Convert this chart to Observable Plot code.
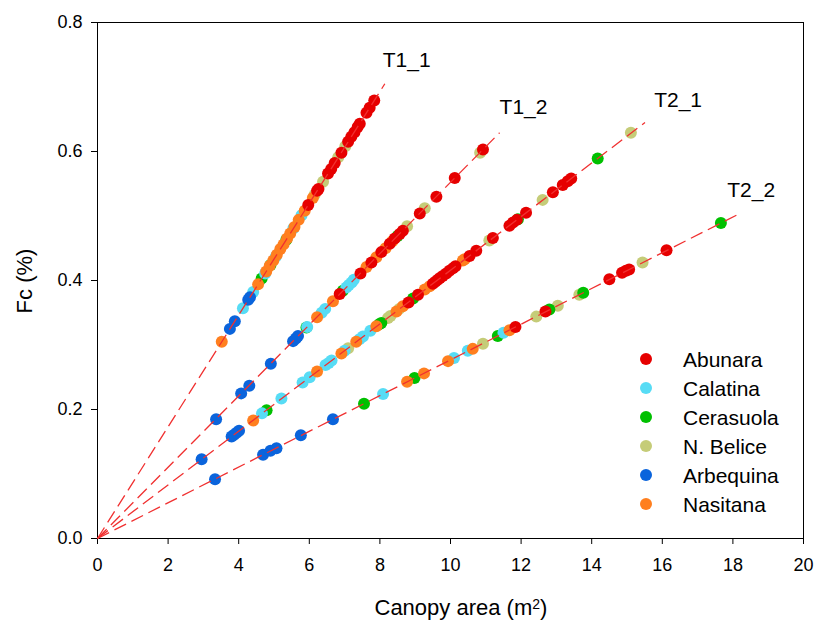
<!DOCTYPE html>
<html><head><meta charset="utf-8">
<script src="https://cdn.jsdelivr.net/npm/d3@7"></script>
<script src="https://cdn.jsdelivr.net/npm/@observablehq/plot@0.6"></script>
<style>
body{margin:0;background:#fff;}
#wrap{position:relative;width:816px;height:623px;font-family:"Liberation Sans",Arial,sans-serif;}
.lrow{position:absolute;font-size:21px;line-height:21px;color:#000;white-space:nowrap;}
.sw{position:absolute;width:12px;height:12px;border-radius:50%;}
.ttl{position:absolute;font-size:22px;line-height:22px;color:#000;white-space:nowrap;}
.ttl sup{font-size:14px;vertical-align:top;position:relative;top:-4px;}
</style></head><body><div id="wrap"></div>
<script>
// Cultivars and their colours
const cultivars = ["Abunara", "Calatina", "Cerasuola", "N. Belice", "Arbequina", "Nasitana"];
const cultivarColors = ["#e60000", "#57dcf5", "#00c000", "#c5cc78", "#0a64dc", "#ff7f1f"];
const drawOrder = ["N. Belice", "Cerasuola", "Calatina", "Arbequina", "Nasitana", "Abunara"];
const codes = {A: "Abunara", C: "Calatina", G: "Cerasuola", N: "N. Belice", B: "Arbequina", O: "Nasitana"};

// Fit lines (through origin)
const lineNames = ["T1_1", "T1_2", "T2_1", "T2_2"];
const lineEndX = [8.14, 11.39, 15.51, 18.13];
const lineEndY = [0.705, 0.629, 0.645, 0.502];
const labelX = [8.08, 11.39, 15.77, 17.84];
const labelY = [0.741, 0.668, 0.679, 0.540];

// Axis ticks
const xTicks = [0, 2, 4, 6, 8, 10, 12, 14, 16, 18, 20];
const yTicks = [0, 0.2, 0.4, 0.6, 0.8];

// T1_1 points
const t11X = [3.52,3.75,3.89,4.12,4.27,4.32,4.41,4.55,4.65,4.75,4.78,4.90,4.88,4.98,5.05,5.08,5.18,5.27,5.35,5.37,5.46,5.55,5.58,5.70,5.78,5.87,5.97,6.10,6.15,6.22,6.26,6.39,6.53,6.62,6.72,6.82,6.91,7.02,7.10,7.19,7.28,7.37,7.43,7.62,7.71,7.84];
const t11Y = [0.305,0.325,0.337,0.357,0.370,0.374,0.382,0.394,0.403,0.411,0.414,0.424,0.423,0.431,0.437,0.440,0.449,0.456,0.463,0.465,0.473,0.481,0.483,0.494,0.501,0.508,0.517,0.528,0.533,0.539,0.542,0.553,0.566,0.573,0.582,0.591,0.598,0.608,0.615,0.623,0.630,0.638,0.643,0.660,0.668,0.679];
const t11C = "OBBCBBCOGCOGOOCOOOGOOCOOCOAONAANAAANANAAAAAAAA";

// T1_2 points
const t12X = [3.36,4.07,4.30,4.91,5.54,5.62,5.68,5.92,5.94,6.22,6.35,6.45,6.67,6.86,6.95,7.05,7.12,7.20,7.26,7.45,7.62,7.76,7.90,8.04,8.16,8.28,8.35,8.42,8.50,8.56,8.65,8.77,9.13,9.27,9.60,10.12,10.84,10.92];
const t12Y = [0.185,0.225,0.237,0.271,0.306,0.310,0.314,0.327,0.328,0.343,0.350,0.356,0.368,0.379,0.384,0.389,0.393,0.397,0.401,0.411,0.421,0.428,0.436,0.444,0.450,0.457,0.461,0.465,0.469,0.472,0.477,0.484,0.504,0.512,0.530,0.559,0.598,0.603];
const t12C = "BBBBBBBGCOCCOAGCCCCAOAOAOAOAGAANANAANA";

// T2_1 points
const t21X = [2.95,3.80,3.87,3.94,4.01,4.41,4.66,4.79,5.21,5.81,6.01,6.22,6.46,6.55,6.63,6.91,7.00,7.10,7.33,7.42,7.52,7.73,7.90,7.98,8.04,8.23,8.30,8.47,8.55,8.65,8.81,8.94,9.08,9.27,9.41,9.50,9.57,9.64,9.70,9.78,9.88,9.97,10.07,10.14,10.35,10.40,10.54,10.73,11.10,11.20,11.67,11.77,11.91,11.88,12.14,12.61,12.90,13.18,13.32,13.42,14.17,15.11];
const t21Y = [0.123,0.158,0.161,0.164,0.167,0.183,0.194,0.199,0.217,0.242,0.250,0.259,0.269,0.272,0.276,0.287,0.291,0.295,0.305,0.309,0.313,0.322,0.329,0.332,0.334,0.342,0.345,0.352,0.356,0.360,0.366,0.372,0.378,0.386,0.391,0.395,0.398,0.401,0.404,0.407,0.411,0.415,0.419,0.422,0.431,0.433,0.438,0.446,0.462,0.466,0.485,0.490,0.495,0.494,0.505,0.525,0.537,0.548,0.554,0.558,0.589,0.629];
const t21C = "BBBBBOCGCCCOCCCOCNOCCCOGGNNONOAGAOOAAAAAAAAAOOAANAAAGAANAAAAGN";

// T2_2 points
const t22X = [3.33,4.69,4.90,5.07,5.76,6.67,7.55,8.09,8.77,8.98,9.25,9.93,10.10,10.49,10.63,10.92,11.34,11.50,11.67,11.84,12.43,12.69,12.80,13.04,13.65,13.76,14.50,14.86,14.97,15.06,15.44,16.12,17.66];
const t22Y = [0.092,0.130,0.136,0.140,0.160,0.185,0.209,0.224,0.243,0.249,0.256,0.275,0.280,0.291,0.294,0.302,0.314,0.319,0.323,0.328,0.344,0.352,0.355,0.361,0.378,0.381,0.402,0.412,0.415,0.417,0.428,0.447,0.489];
const t22C = "BBBBBBGCOGOOCCONGCOANAGNNGAAAANAG";

function rows(xs, ys, cs) {
  return xs.map((x, i) => ({x, y: ys[i], cultivar: codes[cs[i]]}));
}
const points = d3.sort(
  [...rows(t11X, t11Y, t11C), ...rows(t12X, t12Y, t12C), ...rows(t21X, t21Y, t21C), ...rows(t22X, t22Y, t22C)],
  d => drawOrder.indexOf(d.cultivar)
);
const fitLines = lineNames.map((name, i) => ({name, x: lineEndX[i], y: lineEndY[i], lx: labelX[i], ly: labelY[i]}));

const font = '"Liberation Sans", Arial, sans-serif';
const chart = Plot.plot({
  width: 816, height: 623,
  marginLeft: 97, marginRight: 13, marginTop: 22, marginBottom: 85,
  style: {fontFamily: font, background: "white", color: "black"},
  x: {domain: [0, 20]},
  y: {domain: [0, 0.8]},
  color: {domain: cultivars, range: cultivarColors},
  marks: [
    Plot.frame({stroke: "black", strokeWidth: 1}),
    Plot.axisX({ticks: xTicks, tickSize: 6, tickPadding: 14, fontSize: 18, label: null}),
    Plot.axisY({ticks: yTicks, tickFormat: d => d.toFixed(1), tickSize: 6, tickPadding: 9, fontSize: 18, label: null}),
    Plot.dot(points, {x: "x", y: "y", fill: "cultivar", r: 6}),
    Plot.link(fitLines, {x1: d => 0, y1: d => 0, x2: "x", y2: "y", stroke: "#f03030", strokeWidth: 1.3, strokeDasharray: "13,6"}),
    Plot.text(fitLines, {x: "lx", y: "ly", text: "name", textAnchor: "start", fontSize: 21, fill: "black"})
  ]
});
const wrap = document.getElementById("wrap");
wrap.appendChild(chart);

// Axis titles
const xt = document.createElement("div");
xt.className = "ttl";
xt.innerHTML = "Canopy area (m<sup>2</sup>)";
wrap.appendChild(xt);
xt.style.left = (461 - xt.offsetWidth / 2) + "px";
xt.style.top = (608 - 11) + "px";
const yt = document.createElement("div");
yt.className = "ttl";
yt.textContent = "Fc (%)";
wrap.appendChild(yt);
yt.style.left = (25 - yt.offsetWidth / 2) + "px";
yt.style.top = (281 - 11) + "px";
yt.style.transform = "rotate(-90deg)";

// Legend
cultivars.forEach((c, i) => {
  const cy = 359 + i * 29;
  const sw = document.createElement("div");
  sw.className = "sw";
  sw.style.left = (646 - 6) + "px";
  sw.style.top = (cy - 6) + "px";
  sw.style.background = cultivarColors[i];
  wrap.appendChild(sw);
  const t = document.createElement("div");
  t.className = "lrow";
  t.style.left = "683px";
  t.style.top = (cy - 10) + "px";
  t.textContent = c;
  wrap.appendChild(t);
});
</script></body></html>
